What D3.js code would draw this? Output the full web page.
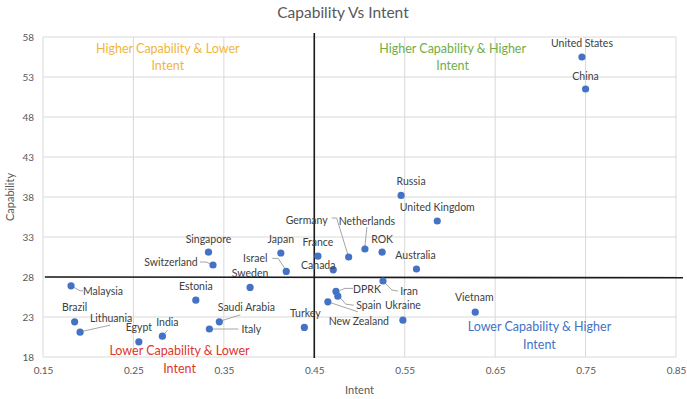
<!DOCTYPE html>
<html>
<head>
<meta charset="utf-8">
<script src="https://cdn.jsdelivr.net/npm/d3@7"></script>
<style>
  html, body { margin: 0; padding: 0; background: #ffffff; }
  svg { display: block; font-family: Lato, "Open Sans", sans-serif; }
</style>
</head>
<body>
<svg id="chart" width="687" height="399"></svg>
<script>
// Countries scored on intent (x) and capability (y)
const countries = [
  "United States", "China", "Russia", "United Kingdom", "Australia", "ROK",
  "Netherlands", "Germany", "France", "Canada", "Iran", "DPRK", "Spain",
  "Ukraine", "New Zealand", "Vietnam", "Turkey", "Singapore", "Switzerland",
  "Japan", "Israel", "Sweden", "Estonia", "Malaysia", "Brazil", "Lithuania",
  "Egypt", "India", "Saudi Arabia", "Italy"
];
const intent = [
  0.746, 0.750, 0.546, 0.586, 0.563, 0.525,
  0.506, 0.488, 0.454, 0.471, 0.526, 0.474, 0.476,
  0.548, 0.465, 0.628, 0.439, 0.333, 0.338,
  0.413, 0.419, 0.379, 0.319, 0.181, 0.185, 0.191,
  0.256, 0.282, 0.345, 0.334
];
const capability = [
  55.5, 51.5, 38.2, 35.0, 29.0, 31.1,
  31.5, 30.5, 30.6, 28.9, 27.5, 26.2, 25.6,
  22.6, 24.9, 23.6, 21.7, 31.1, 29.5,
  31.0, 28.7, 26.7, 25.1, 26.9, 22.4, 21.1,
  19.9, 20.6, 22.4, 21.5
];

const xTicks = [0.15, 0.25, 0.35, 0.45, 0.55, 0.65, 0.75, 0.85];
const yTicks = [18, 23, 28, 33, 38, 43, 48, 53, 58];

// Quadrant dividers
const intentSplit = 0.45;
const capabilitySplit = 28;

// Quadrant captions
const quadrants = [
  { lines: ["Higher Capability & Lower", "Intent"], x: 0.288, y: 56.6, color: "#F2B53B" },
  { lines: ["Higher Capability & Higher", "Intent"], x: 0.603, y: 56.6, color: "#70AD47" },
  { lines: ["Lower Capability & Higher", "Intent"], x: 0.699, y: 21.75, color: "#4472C4" },
  { lines: ["Lower Capability & Lower", "Intent"], x: 0.301, y: 18.75, color: "#E0352B" }
];

// Label placement relative to each point: [dx, dy] of the text centre,
// plus optional leader-line vertices (also relative to the point)
const labelLayout = {
  "United States": { off: [0, -14] },
  "China": { off: [0, -13] },
  "Russia": { off: [10, -14] },
  "United Kingdom": { off: [0, -14] },
  "Australia": { off: [-1, -14] },
  "ROK": { off: [0, -13] },
  "Netherlands": { off: [2, -28], lead: [[0, -3], [2, -22]] },
  "Germany": { off: [-42, -37], lead: [[-17, -39], [-12, -39], [-1, -3]] },
  "France": { off: [0, -14] },
  "Canada": { off: [-15, -4] },
  "Iran": { off: [26, 10], lead: [[3, 3], [9, 9], [15, 10]] },
  "DPRK": { off: [31, -2], lead: [[4, -1], [9, -3], [17, -3]] },
  "Spain": { off: [31, 9], lead: [[2, 1], [8, 8], [16, 9]] },
  "Ukraine": { off: [0, -15] },
  "New Zealand": { off: [31, 20], lead: [[3, 1], [30, 10]] },
  "Vietnam": { off: [-1, -15] },
  "Turkey": { off: [1, -14] },
  "Singapore": { off: [0, -13] },
  "Switzerland": { off: [-42, -3], lead: [[-13, -3], [-7, -3], [-2, -1]] },
  "Japan": { off: [0, -14] },
  "Israel": { off: [-31, -13], lead: [[-14, -13], [-8, -13], [-1, -2]] },
  "Sweden": { off: [0, -14] },
  "Estonia": { off: [0, -14] },
  "Malaysia": { off: [32, 6], lead: [[2, 1], [9, 5], [12, 5]] },
  "Brazil": { off: [0, -14] },
  "Lithuania": { off: [31, -14], lead: [[3, -1], [30, -7]] },
  "Egypt": { off: [0, -14] },
  "India": { off: [5, -14], lead: [[2, -2], [5, -6]] },
  "Saudi Arabia": { off: [27, -14], lead: [[2, -1], [21, -7]] },
  "Italy": { off: [42, 0], lead: [[3, 0], [29, 0]] }
};

const points = countries.map((name, i) => ({ name, x: intent[i], y: capability[i] }));

const svg = d3.select("#chart");
const plot = { left: 43, right: 676, top: 37, bottom: 357 };

const x = d3.scaleLinear().domain([0.15, 0.85]).range([plot.left, plot.right]);
const y = d3.scaleLinear().domain([18, 58]).range([plot.bottom, plot.top]);

// Title
svg.append("text")
  .attr("x", 343).attr("y", 18)
  .attr("text-anchor", "middle")
  .attr("fill", "#595959")
  .attr("font-size", 15.5)
  .text("Capability Vs Intent");

// Gridlines
svg.append("g")
  .selectAll("line.vg")
  .data(xTicks)
  .join("line")
  .attr("x1", d => x(d)).attr("x2", d => x(d))
  .attr("y1", plot.top).attr("y2", plot.bottom)
  .attr("stroke", "#d9d9d9").attr("stroke-width", 1);

svg.append("g")
  .selectAll("line.hg")
  .data(yTicks)
  .join("line")
  .attr("x1", plot.left).attr("x2", plot.right)
  .attr("y1", d => y(d)).attr("y2", d => y(d))
  .attr("stroke", "#d9d9d9").attr("stroke-width", 1);

// Axes (labels only; the gridlines carry the lines)
const xAxis = svg.append("g")
  .attr("transform", `translate(0,${plot.bottom})`)
  .call(d3.axisBottom(x).tickValues(xTicks).tickSize(0).tickPadding(10).tickFormat(d3.format(".2f")));
const yAxis = svg.append("g")
  .attr("transform", `translate(${plot.left},0)`)
  .call(d3.axisLeft(y).tickValues(yTicks).tickSize(0).tickPadding(9).tickFormat(d3.format("d")));
[xAxis, yAxis].forEach(g => {
  g.select(".domain").remove();
  g.selectAll("text")
    .attr("fill", "#595959")
    .attr("font-size", 10)
    .attr("font-family", "Lato, 'Open Sans', sans-serif");
});

// Axis titles
svg.append("text")
  .attr("x", (plot.left + plot.right) / 2).attr("y", 394)
  .attr("text-anchor", "middle")
  .attr("fill", "#595959").attr("font-size", 11)
  .text("Intent");
svg.append("text")
  .attr("transform", `translate(14,${(plot.top + plot.bottom) / 2}) rotate(-90)`)
  .attr("text-anchor", "middle")
  .attr("fill", "#595959").attr("font-size", 11)
  .text("Capability");

// Quadrant dividers
svg.append("line")
  .attr("x1", x(intentSplit)).attr("x2", x(intentSplit))
  .attr("y1", plot.top - 4).attr("y2", plot.bottom + 1)
  .attr("stroke", "#1a1a1a").attr("stroke-width", 1.6);
svg.append("line")
  .attr("x1", plot.left + 2).attr("x2", 683)
  .attr("y1", y(capabilitySplit)).attr("y2", y(capabilitySplit) + 0.8)
  .attr("stroke", "#1a1a1a").attr("stroke-width", 1.6);

// Quadrant captions
quadrants.forEach(q => {
  const t = svg.append("text")
    .attr("text-anchor", "middle")
    .attr("fill", q.color)
    .attr("font-size", 12.5);
  q.lines.forEach((line, i) => {
    t.append("tspan")
      .attr("x", x(q.x))
      .attr("y", y(q.y) + i * 17.5)
      .attr("dy", "0.35em")
      .text(line);
  });
});

// Leader lines
const lineGen = d3.line();
svg.append("g")
  .selectAll("path")
  .data(points.filter(p => labelLayout[p.name].lead))
  .join("path")
  .attr("d", p => lineGen(labelLayout[p.name].lead.map(([dx, dy]) => [x(p.x) + dx, y(p.y) + dy])))
  .attr("fill", "none")
  .attr("stroke", "#a6a6a6")
  .attr("stroke-width", 1);

// Points
svg.append("g")
  .selectAll("circle")
  .data(points)
  .join("circle")
  .attr("cx", p => x(p.x))
  .attr("cy", p => y(p.y))
  .attr("r", 3.6)
  .attr("fill", "#4472C4");

// Point labels
svg.append("g")
  .selectAll("text")
  .data(points)
  .join("text")
  .attr("x", p => x(p.x) + labelLayout[p.name].off[0])
  .attr("y", p => y(p.y) + labelLayout[p.name].off[1])
  .attr("dy", "0.35em")
  .attr("text-anchor", "middle")
  .attr("fill", "#404040")
  .attr("font-size", 10.5)
  .text(p => p.name);
</script>
</body>
</html>
